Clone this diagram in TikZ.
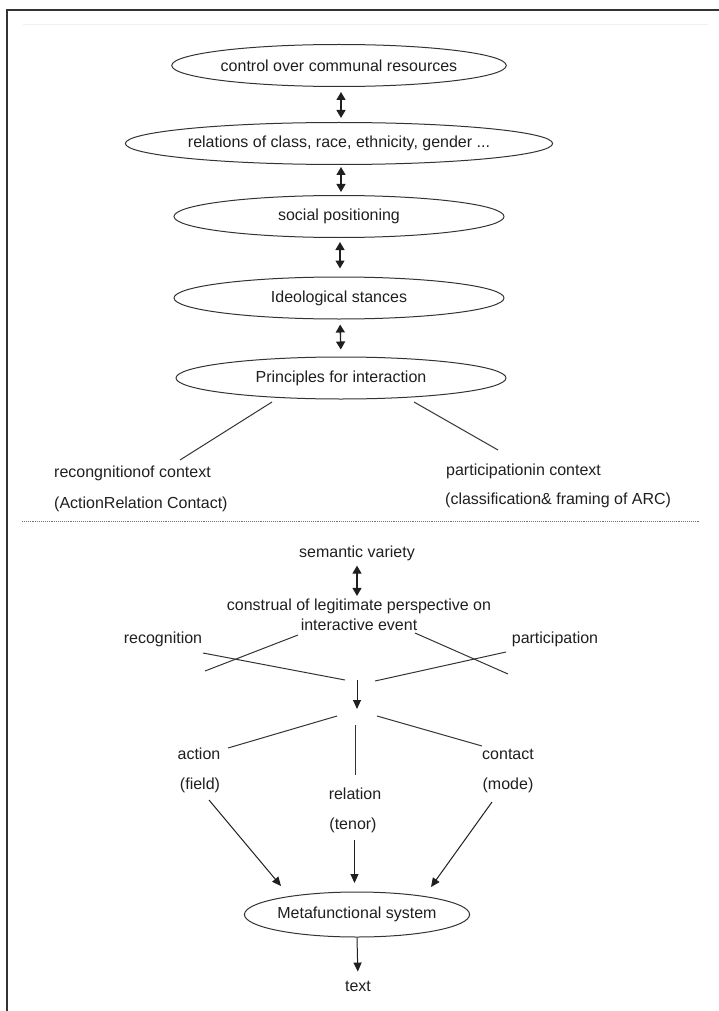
\documentclass[tikz,border=0pt]{standalone}
\usepackage{fontspec}
\setmainfont{Liberation Sans}
\usetikzlibrary{arrows.meta,shapes.geometric}
\begin{document}
\begin{tikzpicture}[x=1pt,y=-1pt,
  every node/.style={font=\fontsize{16}{20}\selectfont, inner sep=0pt, text=black!88},
  ell/.style={draw=black!80, ellipse, line width=1pt, minimum width=330pt, minimum height=42pt},
  ln/.style={draw=black!80, line width=1pt},
  dbl/.style={draw=black!88, line width=1.3pt, {Triangle[length=8pt,width=9pt]}-{Triangle[length=8pt,width=9pt]}},
  arr/.style={draw=black!88, line width=1pt, -{Triangle[length=9pt,width=8pt]}},
  frame/.style={draw=black!80, line width=2pt},
]
\useasboundingbox (0,0) rectangle (719,1011);
% frame
\coordinate (fa) at (7,1011);
\coordinate (fb) at (7,10);
\coordinate (fc) at (719,10);
\draw[frame] (fa) -- (fb) -- (fc);
\coordinate (ga) at (23,25);
\coordinate (gb) at (708,25);
\draw[black!6, line width=1pt] (ga) -- (gb);

% top ellipses
\node[ell] (e1) at (339,65.5) {control over communal resources};
\node[ell] (e2) at (339,143.5) {relations of class, race, ethnicity, gender ...};
\node[ell] (e3) at (339,216.5) {social positioning};
\node[ell] (e4) at (339,298) {Ideological stances};
\node[ell] (e5) at (341,378) {Principles for interaction};

\draw[dbl, shorten <=5pt, shorten >=4pt] ([xshift=2pt]e1.south) -- ([xshift=2pt]e2.north);
\draw[dbl, shorten <=2pt, shorten >=3pt] ([xshift=2pt]e2.south) -- ([xshift=2pt]e3.north);
\draw[dbl, shorten <=4pt, shorten >=8pt] ([xshift=1pt]e3.south) -- ([xshift=1pt]e4.north);
\draw[dbl, shorten <=5pt, shorten >=7pt] ([xshift=1pt]e4.south) -- (e5.north);

% branches
\node[anchor=west] (rc) at (54,473) {recongnitionof context};
\node[anchor=west] (rc2) at (54,504) {(ActionRelation Contact)};
\node[anchor=west] (pc) at (446,471) {participationin context};
\node[anchor=west] (pc2) at (445,500) {(classification\& framing of ARC)};
\coordinate (la) at (272,402);
\coordinate (lb) at (180,460);
\coordinate (ra) at (414,402);
\coordinate (rb) at (498,450);
\draw[ln] (la) -- (lb);
\draw[ln] (ra) -- (rb);

% separator
\coordinate (da) at (22,521);
\coordinate (db) at (700,521);
\draw[black!55, line width=0.9pt, densely dotted] (da) -- (db);

% lower part
\node (sv) at (357,553) {semantic variety};
\node[align=center] (cons) at (359,615) {construal of legitimate perspective on\\interactive event};
\draw[dbl, shorten <=5pt, shorten >=3pt] (sv.south) -- (sv.south |- cons.north);

\node (rec) at (163,639) {recognition};
\node (par) at (555,639) {participation};

\coordinate (xa1) at (203,653);
\coordinate (xa2) at (345,680);
\coordinate (xb1) at (205,671);
\coordinate (xb2) at (298,635);
\coordinate (xc1) at (415,633);
\coordinate (xc2) at (508,674);
\coordinate (xd1) at (375,681);
\coordinate (xd2) at (506,652);
\draw[ln] (xa1) -- (xa2);
\draw[ln] (xb1) -- (xb2);
\draw[ln] (xc1) -- (xc2);
\draw[ln] (xd1) -- (xd2);

\coordinate (ma) at (357,680);
\coordinate (mb) at (357,709);
\draw[arr] (ma) -- (mb);

\coordinate (ya1) at (337,716);
\coordinate (ya2) at (228,748);
\coordinate (yb1) at (355,725);
\coordinate (yb2) at (355,775);
\coordinate (yc1) at (377,716);
\coordinate (yc2) at (482,746);
\draw[ln] (ya1) -- (ya2);
\draw[ln] (yb1) -- (yb2);
\draw[ln] (yc1) -- (yc2);

\node (act) at (199,754) {action};
\node (fld) at (200,785) {(field)};
\node (rel) at (355,794) {relation};
\node (ten) at (353,825) {(tenor)};
\node (con) at (508,754) {contact};
\node (mod) at (508,785) {(mode)};

\node[ell, minimum width=200pt, minimum height=45pt] (meta) at (357,914.5) {Metafunctional system};
\node (txt) at (358,986) {text};

\coordinate (fa1) at (209,800);
\coordinate (fa2) at (281,886);
\coordinate (ta1) at (354.5,840);
\coordinate (ta2) at (354.5,883);
\coordinate (oa1) at (492,802);
\coordinate (oa2) at (431,887);
\draw[arr] (fa1) -- (fa2);
\draw[arr] (ta1) -- (ta2);
\draw[arr] (oa1) -- (oa2);
\draw[arr, shorten >=9pt] (meta.south) -- (txt.north);
\end{tikzpicture}
\end{document}
